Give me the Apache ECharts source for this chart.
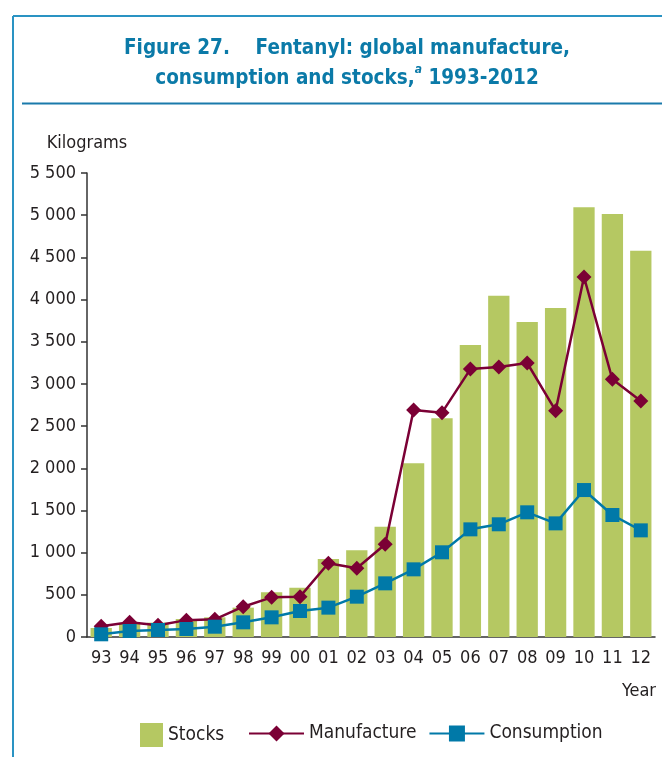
<!DOCTYPE html>
<html>
<head>
<meta charset="utf-8">
<style>
  html, body { margin: 0; padding: 0; background: #fff; }
  #chart { width: 662px; height: 757px; }
</style>
<script src="https://cdn.jsdelivr.net/npm/echarts@6/dist/echarts.min.js"></script>
</head>
<body>
<div id="chart"></div>
<script>
var years = ['93','94','95','96','97','98','99','00','01','02','03','04','05','06','07','08','09','10','11','12'];
var stocks = [107, 165, 170, 213, 233, 348, 530, 585, 925, 1027, 1308, 2059, 2592, 3461, 4046, 3734, 3900, 5095, 5014, 4579];
var manufacture = [127, 174, 140, 200, 210, 359, 470, 478, 874, 814, 1099, 2691, 2659, 3176, 3200, 3248, 2683, 4267, 3054, 2797];
var consumption = [32, 71, 83, 95, 122, 174, 233, 308, 348, 478, 636, 802, 1004, 1276, 1336, 1478, 1347, 1742, 1446, 1264];

var font = "'Liberation Sans Narrow', 'DejaVu Sans Condensed', sans-serif";
var frameColor = '#2a93c3';
var titleColor = '#0b7aa8';
var textColor = '#231f20';

var myChart = echarts.init(document.getElementById('chart'));

// 千位用空格分隔
function spaced(v) {
    var s = String(v);
    return s.length > 3 ? s.slice(0, s.length - 3) + ' ' + s.slice(-3) : s;
}

var option = {
    animation: false,
    textStyle: { fontFamily: font },
    title: {
        text: 'Figure 27.    Fentanyl: global manufacture,\nconsumption and stocks,{a|a} 1993-2012',
        left: 342,
        textAlign: 'center',
        top: 29,
        textStyle: {
            fontFamily: font,
            fontSize: 20.5,
            fontWeight: 'bold',
            color: titleColor,
            lineHeight: 30,
            rich: {
                a: { fontSize: 12, fontStyle: 'italic', fontWeight: 'bold', color: titleColor, verticalAlign: 'top', padding: [0, 0, 12, 0] }
            }
        }
    },
    graphic: [
        { type: 'line', shape: { x1: 13, y1: 16, x2: 662, y2: 16 }, style: { stroke: frameColor, lineWidth: 2 } },
        { type: 'line', shape: { x1: 13, y1: 16, x2: 13, y2: 757 }, style: { stroke: frameColor, lineWidth: 2 } },
        { type: 'line', shape: { x1: 22, y1: 103.5, x2: 662, y2: 103.5 }, style: { stroke: '#1a7aab', lineWidth: 2 } },
        { type: 'text', right: 6, top: 682, style: { text: 'Year', font: '18px ' + font, fill: textColor } }
    ],
    grid: {
        left: 87,
        right: 7,
        top: 173,
        bottom: 120
    },
    legend: [{
        data: ['Stocks'],
        icon: 'rect',
        left: 135,
        top: 718,
        itemWidth: 23,
        itemHeight: 24,
        itemGap: 6,
        textStyle: { fontFamily: font, fontSize: 19, color: textColor }
    }, {
        data: ['Manufacture', 'Consumption'],
        left: 243,
        top: 719,
        itemWidth: 55,
        itemHeight: 20,
        itemGap: 12,
        textStyle: { fontFamily: font, fontSize: 19, color: textColor }
    }],
    xAxis: {
        type: 'category',
        data: years,
        axisLine: { lineStyle: { color: '#333', width: 1.5 } },
        axisTick: { length: 6, lineStyle: { color: '#333', width: 1.5 } },
        axisLabel: { fontFamily: font, fontSize: 18, color: textColor, margin: 12, interval: 0 }
    },
    yAxis: {
        type: 'value',
        min: 0,
        max: 5500,
        interval: 500,
        name: 'Kilograms',
        nameLocation: 'end',
        nameGap: 21,
        nameTextStyle: { fontFamily: font, fontSize: 18, color: textColor },
        splitLine: { show: false },
        axisLine: { show: true, lineStyle: { color: '#333', width: 1.5 } },
        axisTick: { show: true, length: 6, lineStyle: { color: '#333', width: 1.5 } },
        axisLabel: { fontFamily: font, fontSize: 18, color: textColor, margin: 11, formatter: spaced }
    },
    series: [{
        name: 'Stocks',
        type: 'bar',
        data: stocks,
        barCategoryGap: '25%',
        itemStyle: { color: '#b5c862' }
    }, {
        name: 'Manufacture',
        type: 'line',
        data: manufacture,
        symbol: 'diamond',
        symbolSize: 15,
        lineStyle: { color: '#7b0035', width: 2.5 },
        itemStyle: { color: '#7b0035' }
    }, {
        name: 'Consumption',
        type: 'line',
        data: consumption,
        symbol: 'rect',
        symbolSize: 14,
        lineStyle: { color: '#0079a8', width: 2.5 },
        itemStyle: { color: '#0079a8' }
    }]
};

myChart.setOption(option);
</script>
</body>
</html>
